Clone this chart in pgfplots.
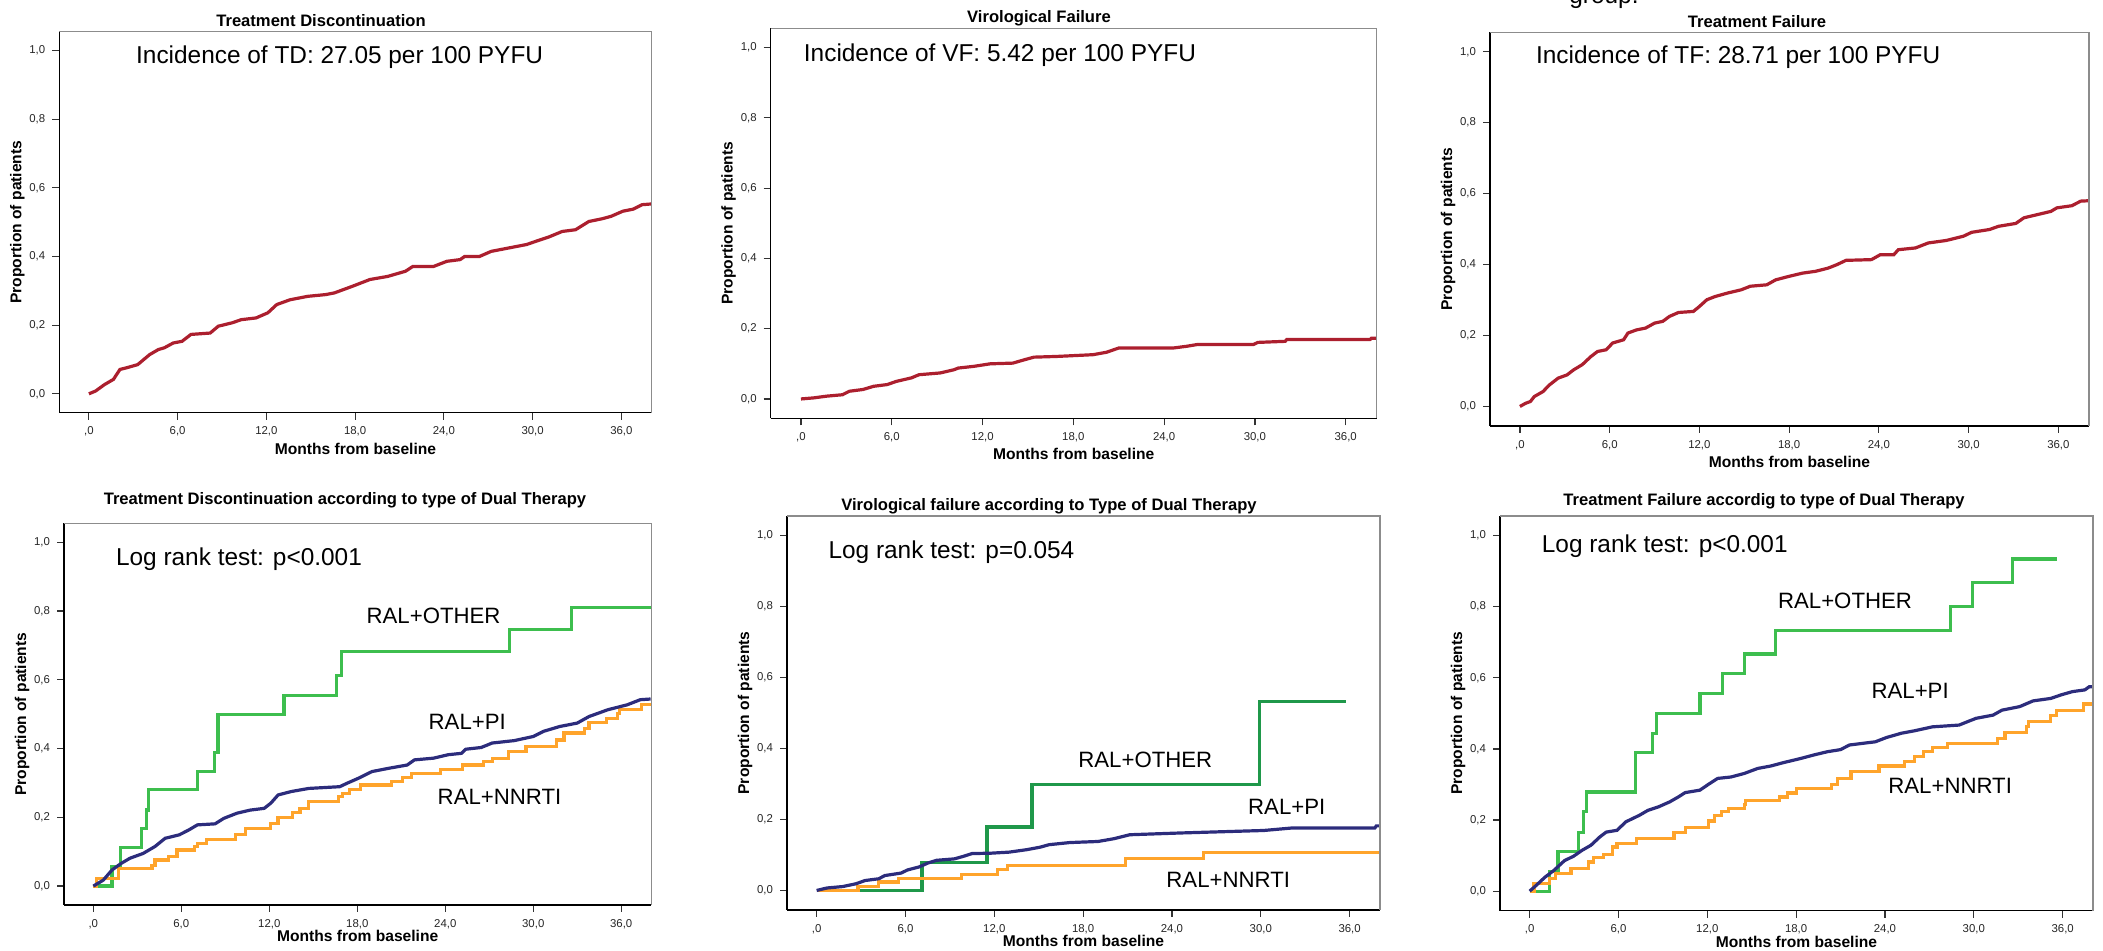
\documentclass[border=0pt]{standalone}
\usepackage{fontspec}
\setmainfont{Liberation Sans}
\usepackage{pgfplots}
\pgfplotsset{compat=1.18}

\definecolor{kmred}{HTML}{AC1F2E}
\definecolor{kmnavy}{HTML}{2C2C7C}
\definecolor{kmorange}{HTML}{FFA42B}
\definecolor{kmgreen}{HTML}{3DBE4E}
\definecolor{kmdkgreen}{HTML}{1F984A}

\newcommand{\annfont}{\fontsize{12.2}{14}\selectfont}
\newcommand{\lblfont}{\fontsize{11.1}{13}\selectfont}
\newcommand{\titfont}{\bfseries\fontsize{8.3}{10}\selectfont}
\newcommand{\graybox}{\draw[black!45, line width=0.7pt] (rel axis cs:0,1) -- (rel axis cs:1,1) -- (rel axis cs:1,0);}

\pgfplotsset{
  km/.style={
    scale only axis, clip=false,
    xmin=-2, xmax=38.05, ymin=-0.055, ymax=1.055,
    axis x line*=bottom, axis y line*=left,
    axis line style={black, line width=0.7pt},
    xtick={0,6,12,18,24,30,36},
    xticklabels={{,0},{6,0},{12,0},{18,0},{24,0},{30,0},{36,0}},
    ytick={0,0.2,0.4,0.6,0.8,1},
    yticklabels={{0,0},{0,2},{0,4},{0,6},{0,8},{1,0}},
    tick align=outside, major tick length=3.5pt,
    tick style={black!80, line width=0.6pt},
    ticklabel style={font=\fontsize{5.7}{6.5}\selectfont, text=black!85},
    xlabel={Months from baseline}, ylabel={Proportion of patients},
    label style={font=\bfseries\fontsize{7.8}{9}\selectfont},
    xlabel style={at={([yshift=-18pt]axis description cs:0.5,0)}, anchor=center},
    ylabel style={at={([xshift=-21pt]axis description cs:0,0.5)}, anchor=center},
    every axis plot/.append style={line width=1.6pt},
  },
  kmlow/.style={km, xlabel style={at={([yshift=-15.5pt]axis description cs:0.5,0)}, anchor=center}},
}

\begin{document}
\begin{tikzpicture}
\useasboundingbox (0,0) rectangle (1051.5pt,475.5pt);

% stray text cut at the top edge
\node[anchor=base west, font=\annfont, inner sep=0pt] at (784.5pt,473.9pt) {group.};

% ---------- top row ----------
\node[font=\titfont] at (160.5pt,465pt) {Treatment Discontinuation};
\begin{axis}[km, at={(29.65pt,269.15pt)}, anchor=south west, width=296.2pt, height=190.5pt]
\addplot[kmred, sharp plot] coordinates {
(0,0)(0.45,0.008)(1.06,0.027)(1.66,0.042)(2.1,0.071)(2.57,0.076)(3.3,0.085)(4.1,0.114)
(4.7,0.129)(5.1,0.134)(5.7,0.148)(6.3,0.153)(6.9,0.173)(8.2,0.177)(8.75,0.197)(9.7,0.207)
(10.3,0.216)(11.3,0.221)(12.1,0.236)(12.7,0.26)(13.6,0.274)(14.8,0.284)(16.0,0.289)(16.6,0.294)
(17.8,0.313)(19.0,0.333)(20.2,0.342)(21.4,0.357)(21.9,0.371)(23.3,0.371)(24.2,0.386)(25.1,0.391)
(25.4,0.4)(26.4,0.4)(27.2,0.415)(28.4,0.425)(29.6,0.435)(30.2,0.444)(31.1,0.457)(32.0,0.473)
(32.9,0.478)(33.8,0.502)(34.7,0.51)(35.3,0.517)(36.1,0.532)(36.8,0.538)(37.4,0.551)(38.0,0.553)};
\node[anchor=west, font=\annfont] at (axis cs:2.72,0.98) {Incidence of TD: 27.05 per 100 PYFU};
\graybox
\end{axis}

\node[font=\titfont] at (519.5pt,466.5pt) {Virological Failure};
\begin{axis}[km, at={(385.35pt,266.35pt)}, anchor=south west, width=303pt, height=195pt]
\addplot[kmred, sharp plot] coordinates {
(0,0)(0.83,0.003)(1.7,0.008)(2.74,0.012)(3.2,0.022)(4.1,0.027)(4.8,0.036)(5.7,0.041)
(6.3,0.05)(7.3,0.06)(7.8,0.069)(9.2,0.074)(10.1,0.083)(10.4,0.088)(11.45,0.093)(12.5,0.1)
(14.0,0.102)(14.8,0.112)(15.4,0.119)(16.9,0.121)(19.3,0.126)(20.2,0.133)(21.0,0.145)(24.6,0.145)
(25.5,0.15)(26.2,0.155)(29.9,0.155)(30.2,0.161)(32.0,0.164)(32.1,0.169)(37.6,0.169)(37.7,0.173)(38.0,0.173)};
\node[anchor=west, font=\annfont] at (axis cs:-0.27,0.979) {Incidence of VF: 5.42 per 100 PYFU};
\graybox
\end{axis}

\node[font=\titfont] at (878.5pt,464.5pt) {Treatment Failure};
\begin{axis}[km, at={(745pt,262.5pt)}, anchor=south west, width=299.5pt, height=196.85pt]
\addplot[kmred, sharp plot] coordinates {
(0,0)(0.38,0.009)(0.7,0.014)(0.96,0.028)(1.54,0.042)(1.98,0.061)(2.56,0.08)(3.15,0.089)
(3.58,0.103)(4.17,0.118)(4.75,0.141)(5.19,0.155)(5.77,0.16)(6.2,0.179)(6.93,0.188)(7.22,0.207)
(7.8,0.216)(8.4,0.221)(9.0,0.235)(9.55,0.24)(10.0,0.254)(10.6,0.265)(11.6,0.268)(12.0,0.282)
(12.5,0.301)(13.05,0.31)(13.9,0.32)(14.8,0.329)(15.4,0.339)(16.5,0.343)(17.1,0.357)(18.0,0.367)
(18.9,0.376)(19.75,0.381)(20.6,0.39)(21.2,0.4)(21.8,0.412)(23.5,0.414)(24.1,0.428)(25.0,0.428)
(25.3,0.442)(26.45,0.447)(27.3,0.461)(28.5,0.468)(29.65,0.48)(30.2,0.491)(31.4,0.499)(32.0,0.508)
(33.15,0.516)(33.7,0.532)(34.6,0.541)(35.5,0.55)(35.9,0.56)(36.9,0.566)(37.5,0.579)(38.0,0.58)};
\node[anchor=west, font=\annfont] at (axis cs:0.61,0.986) {Incidence of TF: 28.71 per 100 PYFU};
\graybox
\end{axis}

% ---------- bottom row ----------
\node[font=\titfont] at (172.5pt,225.15pt) {Treatment Discontinuation according to type of Dual Therapy};
\begin{axis}[kmlow, at={(32pt,23pt)}, anchor=south west, width=293.65pt, height=190.85pt]
\addplot[kmgreen, const plot] coordinates {
(0,0)(1.28,0.056)(1.83,0.112)(3.3,0.168)(3.6,0.221)(3.75,0.28)(7.1,0.333)(8.24,0.388)
(8.5,0.5)(13.0,0.554)(16.6,0.612)(16.95,0.683)(28.4,0.746)(32.6,0.809)(38.0,0.809)};
\addplot[kmorange, const plot] coordinates {
(0,0)(0.2,0.022)(1.74,0.051)(4.0,0.061)(4.2,0.076)(5.1,0.085)(5.7,0.105)(6.9,0.115)
(7.1,0.124)(7.7,0.136)(9.7,0.149)(10.4,0.168)(12.1,0.183)(12.6,0.2)(13.6,0.214)(14.1,0.226)
(14.65,0.246)(16.7,0.26)(17.0,0.27)(17.45,0.282)(18.2,0.294)(20.35,0.304)(21.1,0.316)(21.7,0.328)
(23.7,0.34)(25.2,0.352)(26.6,0.362)(27.2,0.372)(28.3,0.391)(29.5,0.406)(31.6,0.425)(32.1,0.445)
(33.5,0.459)(33.8,0.476)(35.0,0.488)(35.75,0.503)(35.9,0.513)(37.4,0.527)(38.0,0.527)};
\addplot[kmnavy, sharp plot] coordinates {
(0,0)(0.67,0.017)(1.28,0.047)(1.9,0.066)(2.5,0.081)(3.4,0.095)(4.2,0.115)(4.9,0.139)
(5.86,0.149)(6.5,0.163)(7.1,0.178)(8.3,0.181)(8.9,0.197)(9.8,0.212)(10.7,0.221)(11.65,0.226)
(12.1,0.241)(12.6,0.265)(13.5,0.275)(14.7,0.284)(16.8,0.289)(17.3,0.299)(18.1,0.314)(19.0,0.333)
(20.2,0.343)(21.4,0.352)(21.9,0.367)(23.2,0.372)(24.2,0.382)(25.1,0.386)(25.4,0.398)(26.45,0.403)
(27.2,0.416)(28.7,0.423)(30.0,0.435)(30.7,0.45)(31.8,0.464)(33.0,0.474)(33.8,0.493)(35.1,0.513)
(36.4,0.527)(37.3,0.542)(38.0,0.544)};
\node[anchor=west, font=\annfont] at (axis cs:1.07,0.952) {Log rank test: p<0.001};
\node[font=\lblfont] at (axis cs:23.2,0.787) {RAL+OTHER};
\node[font=\lblfont] at (axis cs:25.5,0.477) {RAL+PI};
\node[font=\lblfont] at (axis cs:27.7,0.258) {RAL+NNRTI};
\graybox
\end{axis}

\node[font=\titfont] at (524.5pt,222.5pt) {Virological failure according to Type of Dual Therapy};
\begin{axis}[kmlow, at={(393.5pt,20.5pt)}, anchor=south west, width=296.5pt, height=197pt]
\addplot[kmdkgreen, const plot] coordinates {
(0,0)(7.12,0.078)(11.5,0.179)(14.55,0.298)(29.9,0.532)(35.75,0.532)};
\addplot[kmorange, const plot] coordinates {
(0,0)(2.8,0.011)(4.2,0.024)(5.55,0.033)(9.8,0.044)(12.2,0.058)(12.9,0.071)(20.85,0.089)
(26.15,0.106)(38.05,0.106)};
\addplot[kmnavy, sharp plot] coordinates {
(0,0)(0.7,0.007)(1.76,0.011)(2.67,0.019)(3.27,0.028)(4.2,0.033)(4.6,0.042)(5.7,0.049)
(6.15,0.058)(6.9,0.066)(7.5,0.077)(8.1,0.085)(9.3,0.089)(9.9,0.096)(10.5,0.104)(11.75,0.105)
(13.0,0.108)(14.2,0.115)(15.1,0.122)(15.7,0.129)(17.1,0.135)(19.0,0.138)(20.1,0.146)(21.15,0.157)
(24.6,0.162)(30.2,0.169)(32.1,0.176)(37.7,0.176)(37.8,0.182)(38.05,0.182)};
\node[anchor=west, font=\annfont] at (axis cs:0.33,0.954) {Log rank test: p=0.054};
\node[font=\lblfont] at (axis cs:22.2,0.369) {RAL+OTHER};
\node[font=\lblfont] at (axis cs:31.75,0.235) {RAL+PI};
\node[font=\lblfont] at (axis cs:27.8,0.03) {RAL+NNRTI};
\graybox
\end{axis}

\node[font=\titfont] at (882pt,224.65pt) {Treatment Failure accordig to type of Dual Therapy};
\begin{axis}[kmlow, at={(750pt,20.15pt)}, anchor=south west, width=296.5pt, height=197.35pt]
\addplot[kmgreen, const plot] coordinates {
(0,0)(1.33,0.056)(1.92,0.112)(3.3,0.166)(3.64,0.223)(3.84,0.279)(7.15,0.389)(8.28,0.444)
(8.57,0.5)(11.5,0.556)(13.0,0.613)(14.5,0.667)(16.6,0.733)(28.4,0.801)(29.9,0.867)(32.6,0.934)(35.6,0.934)};
\addplot[kmorange, const plot] coordinates {
(0,0)(0.3,0.021)(1.33,0.035)(1.77,0.049)(2.8,0.063)(4.0,0.082)(4.3,0.094)(5.0,0.103)
(5.6,0.124)(5.9,0.133)(7.2,0.148)(9.75,0.166)(10.5,0.178)(12.1,0.197)(12.5,0.213)(12.95,0.223)
(13.45,0.232)(14.5,0.244)(14.6,0.254)(16.85,0.265)(17.4,0.276)(18.0,0.289)(20.4,0.301)(20.8,0.317)
(21.7,0.336)(23.6,0.352)(25.3,0.364)(26.0,0.378)(26.6,0.392)(27.2,0.403)(28.2,0.415)(31.6,0.43)
(32.1,0.445)(33.55,0.462)(33.7,0.476)(35.2,0.495)(35.6,0.509)(37.4,0.526)(38.0,0.526)};
\addplot[kmnavy, sharp plot] coordinates {
(0,0)(0.44,0.016)(1.03,0.039)(1.63,0.058)(2.36,0.086)(2.96,0.098)(3.55,0.115)(4.14,0.129)
(4.73,0.152)(5.17,0.166)(5.9,0.171)(6.5,0.195)(7.4,0.213)(7.98,0.227)(8.7,0.237)(9.46,0.251)
(10.05,0.265)(10.5,0.277)(11.5,0.284)(12.1,0.301)(12.7,0.317)(13.6,0.321)(14.5,0.331)(15.4,0.345)
(16.3,0.352)(17.1,0.361)(18.3,0.373)(19.2,0.383)(20.1,0.392)(21.0,0.398)(21.6,0.411)(23.35,0.42)
(24.1,0.432)(25.1,0.444)(26.0,0.451)(27.2,0.462)(29.0,0.467)(30.15,0.486)(31.3,0.495)(31.9,0.509)
(33.1,0.519)(34.0,0.535)(35.2,0.542)(35.9,0.552)(36.65,0.561)(37.5,0.566)(37.8,0.575)(38.0,0.575)};
\node[anchor=west, font=\annfont] at (axis cs:0.35,0.97) {Log rank test: p<0.001};
\node[font=\lblfont] at (axis cs:21.3,0.815) {RAL+OTHER};
\node[font=\lblfont] at (axis cs:25.7,0.564) {RAL+PI};
\node[font=\lblfont] at (axis cs:28.4,0.295) {RAL+NNRTI};
\graybox
\end{axis}
\end{tikzpicture}
\end{document}
